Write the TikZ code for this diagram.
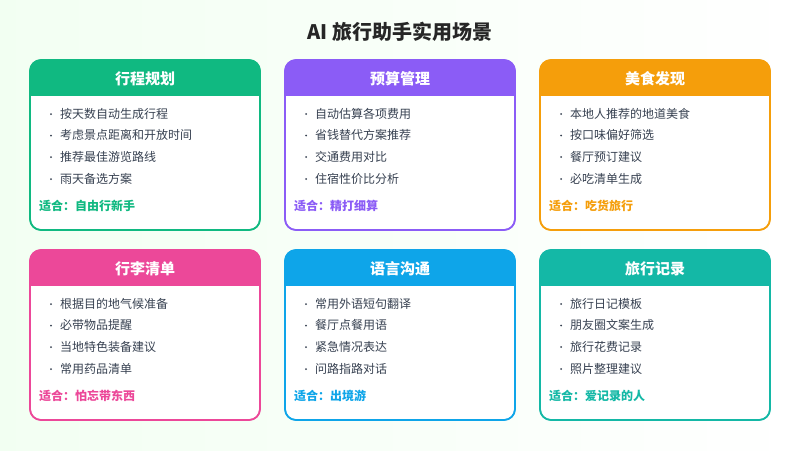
\documentclass[tikz,border=0pt]{standalone}
\usepackage{fontspec}
\setmainfont{Noto Sans CJK SC}
\usetikzlibrary{positioning}
\definecolor{cgreen}{HTML}{10B981}
\definecolor{cpurple}{HTML}{8B5CF6}
\definecolor{corange}{HTML}{F59E0B}
\definecolor{cpink}{HTML}{EC4899}
\definecolor{cblue}{HTML}{0EA5E9}
\definecolor{cteal}{HTML}{14B8A6}
\definecolor{ctext}{HTML}{374151}
\tikzset{
  card/.style={draw=#1,line width=1.6pt,fill=white,rounded corners=11pt},
  headtxt/.style={text=white,font=\fontsize{15}{17}\selectfont\bfseries},
  item/.style={text=ctext,font=\fontsize{12}{14}\selectfont,anchor=base west,inner sep=0pt},
  fit/.style={text=#1,font=\fontsize{12}{14}\selectfont\bfseries,anchor=base west,inner sep=0pt}
}
% draw one card: x, y, colour, title, four items, audience
\newcommand{\travelcard}[9]{%
  \begin{scope}[shift={(#1,#2)}]
    \draw[card=#3] (0,0) rectangle (230,170);
    \begin{scope}
      \clip[rounded corners=11pt] (0,0) rectangle (230,170);
      \fill[#3] (0,0) rectangle (230,36);
    \end{scope}
    \draw[#3,line width=1.6pt,rounded corners=11pt] (0,0) rectangle (230,170);
    \node[headtxt] at (115,19) {#4};
    \node[item] at (30,58) {#5};
    \node[item] at (30,79.5) {#6};
    \node[item] at (30,101) {#7};
    \node[item] at (30,123) {#8};
    \foreach \yy in {54,75.5,97,119} \fill[ctext] (21,\yy) circle (1pt);
    \node[fit=#3] at (9,150) {适合：#9};
  \end{scope}}
\begin{document}
\begin{tikzpicture}[x=1pt,y=-1pt]
\shade[left color=green!5!white,right color=white] (0,0) rectangle (800,450);
\node[text=black!85,font=\fontsize{20}{22}\selectfont\bfseries] (title) at (400,32) {AI 旅行助手实用场景};
\travelcard{30}{60}{cgreen}{行程规划}{按天数自动生成行程}{考虑景点距离和开放时间}{推荐最佳游览路线}{雨天备选方案}{自由行新手}
\travelcard{285}{60}{cpurple}{预算管理}{自动估算各项费用}{省钱替代方案推荐}{交通费用对比}{住宿性价比分析}{精打细算}
\travelcard{540}{60}{corange}{美食发现}{本地人推荐的地道美食}{按口味偏好筛选}{餐厅预订建议}{必吃清单生成}{吃货旅行}
\travelcard{30}{250}{cpink}{行李清单}{根据目的地气候准备}{必带物品提醒}{当地特色装备建议}{常用药品清单}{怕忘带东西}
\travelcard{285}{250}{cblue}{语言沟通}{常用外语短句翻译}{餐厅点餐用语}{紧急情况表达}{问路指路对话}{出境游}
\travelcard{540}{250}{cteal}{旅行记录}{旅行日记模板}{朋友圈文案生成}{旅行花费记录}{照片整理建议}{爱记录的人}
\end{tikzpicture}
\end{document}
